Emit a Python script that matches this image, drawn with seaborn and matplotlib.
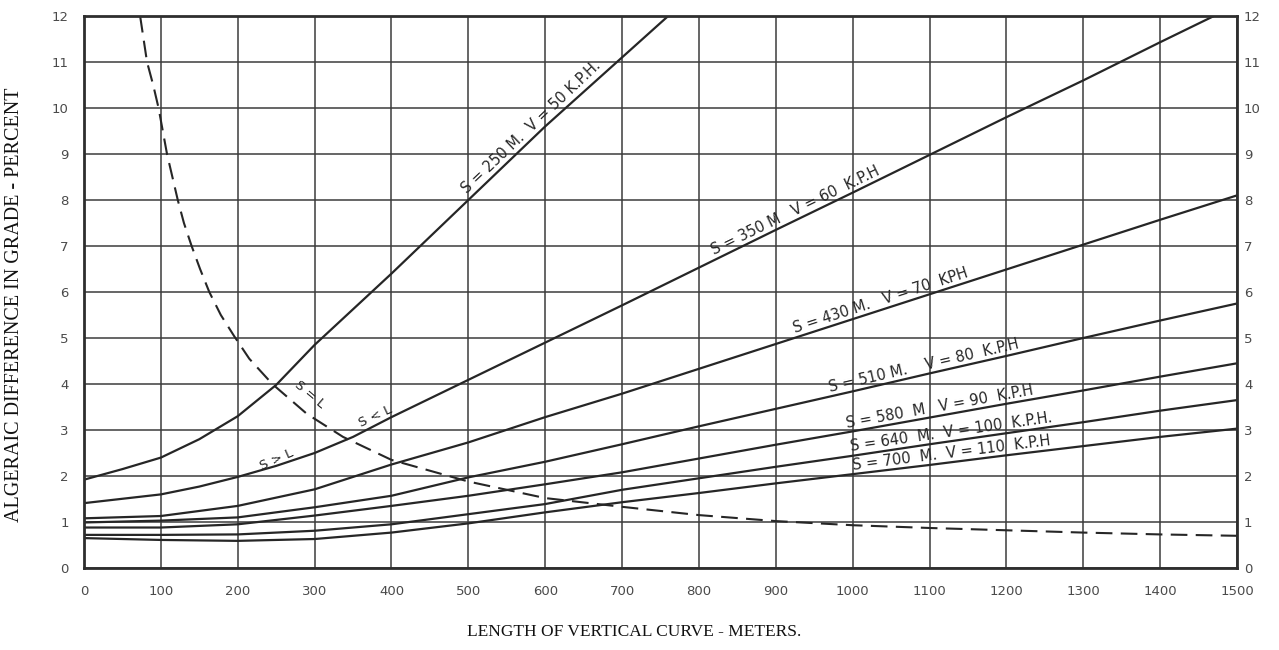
import numpy as np
import matplotlib
matplotlib.use("Agg")
import matplotlib.pyplot as plt
import seaborn as sns

# Length of vertical curve (m) and algebraic difference in grade (%) for each sight distance
length_250 = [0, 50, 100, 150, 200, 250, 300, 400, 500, 600, 700, 760]
grade_250 = [1.92, 2.15, 2.4, 2.8, 3.3, 3.98, 4.85, 6.4, 8.0, 9.6, 11.1, 12.0]

length_350 = [0, 100, 150, 200, 250, 300, 350, 400, 500, 600, 700, 800, 900, 1000, 1100, 1200, 1300, 1400, 1470]
grade_350 = [1.41, 1.6, 1.77, 1.98, 2.22, 2.5, 2.85, 3.28, 4.09, 4.9, 5.71, 6.53, 7.35, 8.16, 8.98, 9.8, 10.6, 11.43, 12.0]

length_std = [0, 100, 200, 300, 400, 500, 600, 700, 800, 900, 1000, 1100, 1200, 1300, 1400, 1500]
grade_430 = [1.08, 1.13, 1.35, 1.71, 2.25, 2.73, 3.28, 3.79, 4.33, 4.87, 5.41, 5.95, 6.49, 7.03, 7.57, 8.1]
grade_510 = [0.99, 1.03, 1.1, 1.32, 1.57, 1.97, 2.31, 2.69, 3.08, 3.46, 3.84, 4.23, 4.61, 5.0, 5.38, 5.75]
grade_580 = [0.88, 0.88, 0.95, 1.14, 1.35, 1.57, 1.82, 2.08, 2.38, 2.68, 2.97, 3.27, 3.57, 3.86, 4.16, 4.45]
grade_640 = [0.72, 0.72, 0.73, 0.81, 0.95, 1.17, 1.39, 1.7, 1.95, 2.2, 2.44, 2.69, 2.93, 3.17, 3.42, 3.65]
grade_700 = [0.65, 0.61, 0.59, 0.63, 0.77, 0.97, 1.21, 1.43, 1.63, 1.84, 2.04, 2.24, 2.45, 2.65, 2.85, 3.03]

# Boundary where sight distance equals curve length (S = L)
boundary_length = [73, 82, 90, 97, 108, 115, 122, 130, 140, 151, 163, 178, 195, 215, 245, 290, 337,
                   400, 500, 600, 700, 800, 900, 1000, 1100, 1200, 1300, 1400, 1500]
boundary_grade = [12.0, 11.0, 10.5, 10.0, 9.0, 8.5, 8.0, 7.5, 7.0, 6.5, 6.0, 5.5, 5.05, 4.55, 4.0, 3.35,
                  2.85, 2.35, 1.88, 1.52, 1.33, 1.15, 1.02, 0.93, 0.87, 0.82, 0.77, 0.73, 0.7]

curve_labels = [
    "S = 250 M.  V = 50 K.P.H.",
    "S = 350 M   V = 60  K.P.H",
    "S = 430 M.   V = 70  KPH",
    "S = 510 M.    V = 80  K.P.H",
    "S = 580  M   V = 90  K.P.H",
    "S = 640  M.  V = 100  K.P.H.",
    "S = 700  M.  V = 110  K.P.H",
]

x_ticks = list(range(0, 1501, 100))
y_ticks = list(range(0, 13))

sns.set_style("white")
plt.rcParams["font.family"] = ["DejaVu Sans"]

INK = "#262626"
GRID = "#3c3c3c"
TICK_INK = "#4a4a4a"

fig = plt.figure(figsize=(12.79, 6.5), dpi=100)
ax = fig.add_axes([84 / 1279, 1 - 568 / 650, (1237 - 84) / 1279, (568 - 16) / 650])

ax.set_xlim(0, 1500)
ax.set_ylim(0, 12)
ax.set_xticks(x_ticks)
ax.set_yticks(y_ticks)
ax.set_xticklabels([str(v) for v in x_ticks])
ax.grid(True, color=GRID, lw=1.1)
ax.set_axisbelow(True)
for sp in ax.spines.values():
    sp.set_visible(True)
    sp.set_color("#2e2e2e")
    sp.set_linewidth(2.0)
ax.tick_params(axis="x", length=0, pad=12, labelsize=9.5, labelcolor=TICK_INK)
ax.tick_params(axis="y", length=0, pad=11, labelsize=9.5, labelcolor=TICK_INK)

# Grade scale repeated on the right edge
ax_r = ax.twinx()
ax_r.set_ylim(0, 12)
ax_r.set_yticks(y_ticks)
ax_r.grid(False)
for sp in ax_r.spines.values():
    sp.set_visible(False)
ax_r.tick_params(axis="y", length=0, pad=5, labelsize=9.5, labelcolor=TICK_INK)

series = [
    (length_250, grade_250),
    (length_350, grade_350),
    (length_std, grade_430),
    (length_std, grade_510),
    (length_std, grade_580),
    (length_std, grade_640),
    (length_std, grade_700),
]
for xs, ys in series:
    sns.lineplot(x=xs, y=ys, ax=ax, color=INK, lw=1.6, sort=False)

sns.lineplot(x=boundary_length, y=boundary_grade, ax=ax, color=INK, lw=1.5, sort=False,
             dashes=False, linestyle=(0, (8, 4)))


def along(text, L, xs, ys, size=10.5, lift=1.0):
    a = np.interp(L, xs, ys)
    p1 = ax.transData.transform((L - 15, np.interp(L - 15, xs, ys)))
    p2 = ax.transData.transform((L + 15, np.interp(L + 15, xs, ys)))
    ang = np.degrees(np.arctan2(p2[1] - p1[1], p2[0] - p1[0]))
    t = np.radians(ang)
    ax.annotate(text, (L, a), xytext=(-lift * np.sin(t), lift * np.cos(t)),
                textcoords="offset points", rotation=ang, rotation_mode="anchor",
                ha="center", va="bottom", fontsize=size, color=INK)


label_at = [590, 930, 1040, 1095, 1115, 1130, 1130]
for text, L, (xs, ys) in zip(curve_labels, label_at, series):
    along(text, L, xs, ys)

ax.text(251, 2.35, "S > L", rotation=24, ha="center", va="center", fontsize=9.5, color=INK)
ax.text(379, 3.3, "S < L", rotation=25, ha="center", va="center", fontsize=9.5, color=INK)
ax.text(294, 3.78, "S = L", rotation=-40, ha="center", va="center", fontsize=9.5, color=INK)

fig.text(15 / 1279, 1 - 305 / 650, "ALGERAIC DIFFERENCE IN GRADE - PERCENT", rotation=90,
         ha="center", va="center", family="Liberation Serif", fontsize=14.5, color="#111111")
fig.text(634 / 1279, 1 - 632 / 650, "LENGTH OF VERTICAL CURVE - METERS.",
         ha="center", va="center", family="Liberation Serif", fontsize=12.5, color="#111111")

fig.savefig("out.png", dpi=100)
